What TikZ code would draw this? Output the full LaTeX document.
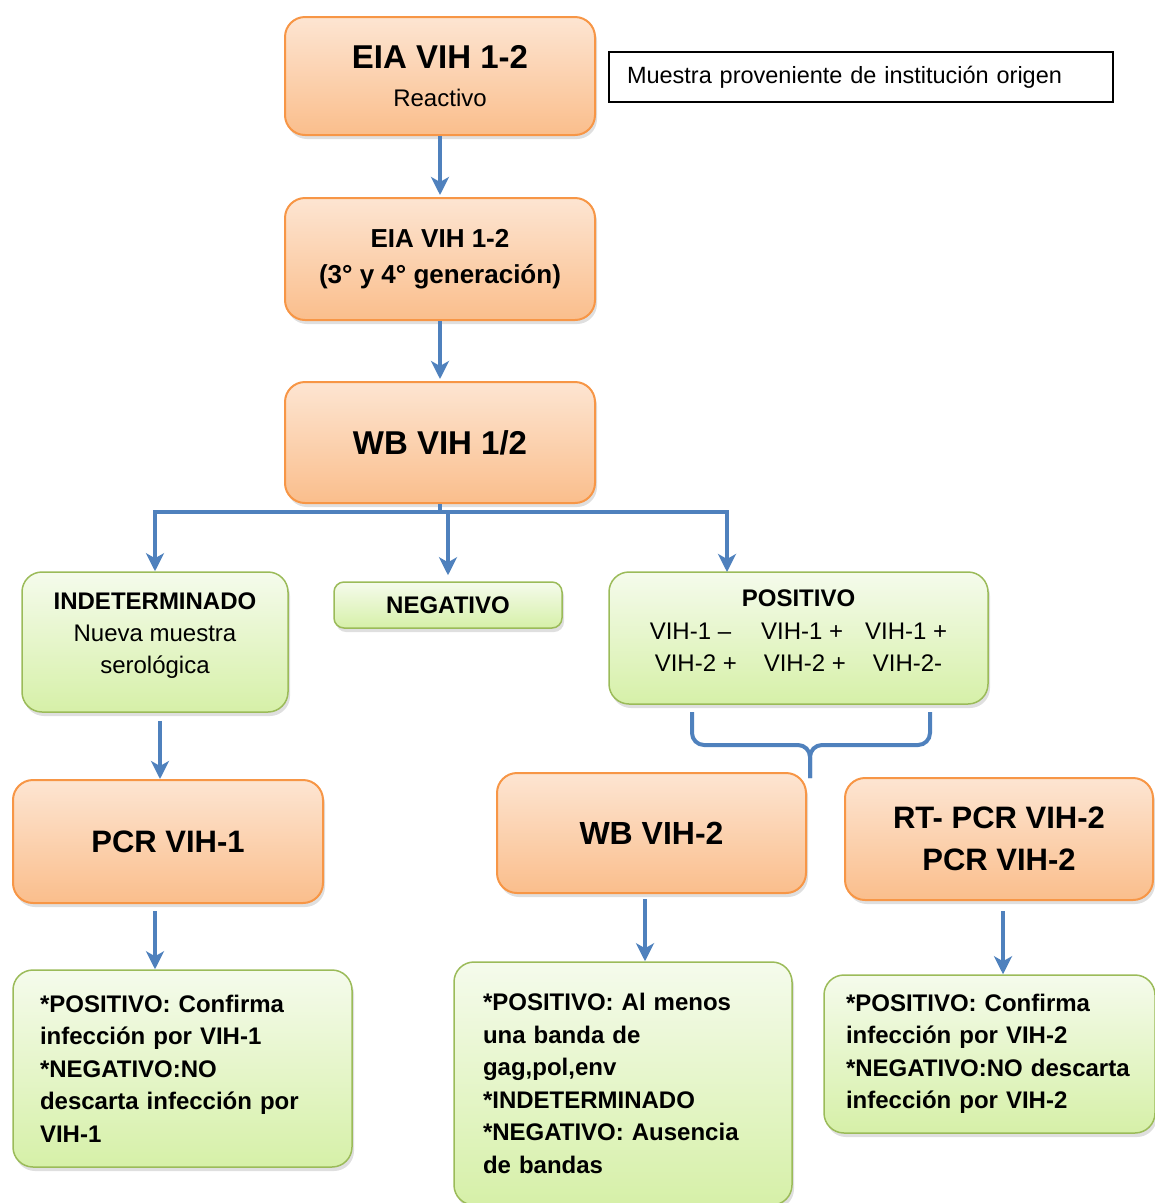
\documentclass[tikz,border=0pt]{standalone}
\usepackage{fontspec}
\setmainfont{Liberation Sans}
\usepackage{tikz}
\usetikzlibrary{arrows.meta,shadows}
\tikzset{>={Stealth[length=18pt,width=18pt,inset=5pt]}}
\usepackage{xcolor}
\definecolor{flowblue}{RGB}{79,129,189}
\definecolor{orangeline}{RGB}{247,150,70}
\definecolor{orangetop}{RGB}{253,229,210}
\definecolor{orangebot}{RGB}{250,190,140}
\definecolor{greenline}{RGB}{155,187,89}
\definecolor{greentop}{RGB}{245,251,236}
\definecolor{greenbot}{RGB}{214,240,168}
\tikzstyle{boxshadow}=[drop shadow={shadow xshift=2pt,shadow yshift=-4pt,opacity=0.25}]
\tikzstyle{orangebox}=[draw=orangeline,line width=2pt,rounded corners=20pt,top color=orangetop,bottom color=orangebot,boxshadow,align=center]
\tikzstyle{greenbox}=[draw=greenline,line width=1.5pt,rounded corners=20pt,top color=greentop,bottom color=greenbot,boxshadow,align=center]
\tikzstyle{flow}=[->,flowblue,line width=4pt]
\tikzstyle{link}=[flowblue,line width=4pt]

\begin{document}
\begin{tikzpicture}[x=1pt,y=-1pt]
    \useasboundingbox (0,0) rectangle (1155,1203);

    % first column of tests
    \node[orangebox,minimum width=310pt,minimum height=118pt,font=\fontsize{24}{38}\selectfont] (eia) at (440,76) {{\fontsize{33}{38}\selectfont\bfseries EIA VIH 1-2}\\Reactivo};
    \node[draw=black,line width=1.2pt,fill=white,text width=468pt,inner xsep=18pt,minimum height=50pt,align=left,font=\fontsize{23.5}{28}\selectfont] (muestra) at (861,77) {Muestra proveniente de institución origen};
    \node[orangebox,minimum width=310pt,minimum height=122pt,font=\fontsize{26}{36}\selectfont\bfseries] (eia2) at (440,259) {EIA VIH 1-2\\(3° y 4° generación)};
    \node[orangebox,minimum width=310pt,minimum height=121pt,font=\fontsize{33}{38}\selectfont\bfseries] (wb) at (440,442.5) {WB VIH 1/2};

    \draw[flow,shorten >=2pt] (eia) -- (eia2);
    \draw[flow,shorten >=2pt] (eia2) -- (wb);

    % results of the WB
    \node[greenbox,minimum width=266pt,minimum height=140pt,text depth=17pt,font=\fontsize{24}{32}\selectfont] (indet) at (155,642) {\textbf{INDETERMINADO}\\Nueva muestra\\serológica};
    \node[greenbox,rounded corners=10pt,minimum width=228pt,minimum height=46pt,font=\fontsize{24}{28}\selectfont\bfseries] (neg) at (448,605) {NEGATIVO};
    \node[greenbox,minimum width=379pt,minimum height=132pt,text depth=14pt,font=\fontsize{24}{32.5}\selectfont] (pos) at (798.5,638) {\textbf{POSITIVO}\\VIH-1 –\hspace{30pt}VIH-1 +\hspace{22pt}VIH-1 +\\VIH-2 +\hspace{27pt}VIH-2 +\hspace{27pt}VIH-2-};

    \coordinate (split) at (448,512);
    \coordinate (posin) at (727,572);
    \draw[link] (wb.south) -- (wb.south |- split);
    \draw[flow] (split) -| (indet.north);
    \draw[flow] (split) -| (posin);
    \draw[flow,shorten >=6pt] (split) -- (neg);

    % second tests
    \node[orangebox,minimum width=310pt,minimum height=123pt,font=\fontsize{31}{42}\selectfont\bfseries] (pcr1) at (168,841.5) {PCR VIH-1};
    \node[orangebox,minimum width=309pt,minimum height=120pt,font=\fontsize{32}{42}\selectfont\bfseries] (wb2) at (651.5,833) {WB VIH-2};
    \node[orangebox,minimum width=308pt,minimum height=122pt,font=\fontsize{31}{42}\selectfont\bfseries] (rtpcr) at (999,839) {RT- PCR VIH-2\\PCR VIH-2};

    \draw[flow,shorten <=8pt] ([xshift=5pt]indet.south) -- ([xshift=5pt]indet.south |- pcr1.north);

    \coordinate (bl) at (692,712);
    \coordinate (brt) at (930,712);
    \coordinate (bmid) at (810,745);
    \coordinate (btip) at (810,778);
    \draw[link,rounded corners=12pt] (bl) |- (bmid) -- (btip);
    \draw[link,rounded corners=12pt] (brt) |- (bmid) -- (btip);

    % interpretation
    \node[greenbox,text width=285pt,inner xsep=27pt,minimum height=197pt,align=left,font=\fontsize{24}{32.5}\selectfont\bfseries] (res1) at (182.5,1068.5) {*POSITIVO: Confirma\\infección por VIH-1\\{*}NEGATIVO:NO\\descarta infección por\\VIH-1};
    \node[greenbox,text width=280pt,inner xsep=29pt,minimum height=243pt,align=left,font=\fontsize{24}{32.5}\selectfont\bfseries] (res2) at (623,1083.5) {*POSITIVO: Al menos\\una banda de\\gag,pol,env\\{*}INDETERMINADO\\{*}NEGATIVO: Ausencia\\de bandas};
    \node[greenbox,text width=287pt,inner xsep=22pt,minimum height=158pt,align=left,font=\fontsize{24}{32.5}\selectfont\bfseries] (res3) at (989.5,1054) {*POSITIVO: Confirma\\infección por VIH-2\\{*}NEGATIVO:NO descarta\\infección por VIH-2};

    \draw[flow,shorten <=7pt] ([xshift=-13pt]pcr1.south) -- ([xshift=-13pt]pcr1.south |- res1.north);
    \draw[flow,shorten <=5pt] ([xshift=-6.5pt]wb2.south) -- ([xshift=-6.5pt]wb2.south |- res2.north);
    \draw[flow,shorten <=10pt] ([xshift=4pt]rtpcr.south) -- ([xshift=4pt]rtpcr.south |- res3.north);
\end{tikzpicture}
\end{document}
